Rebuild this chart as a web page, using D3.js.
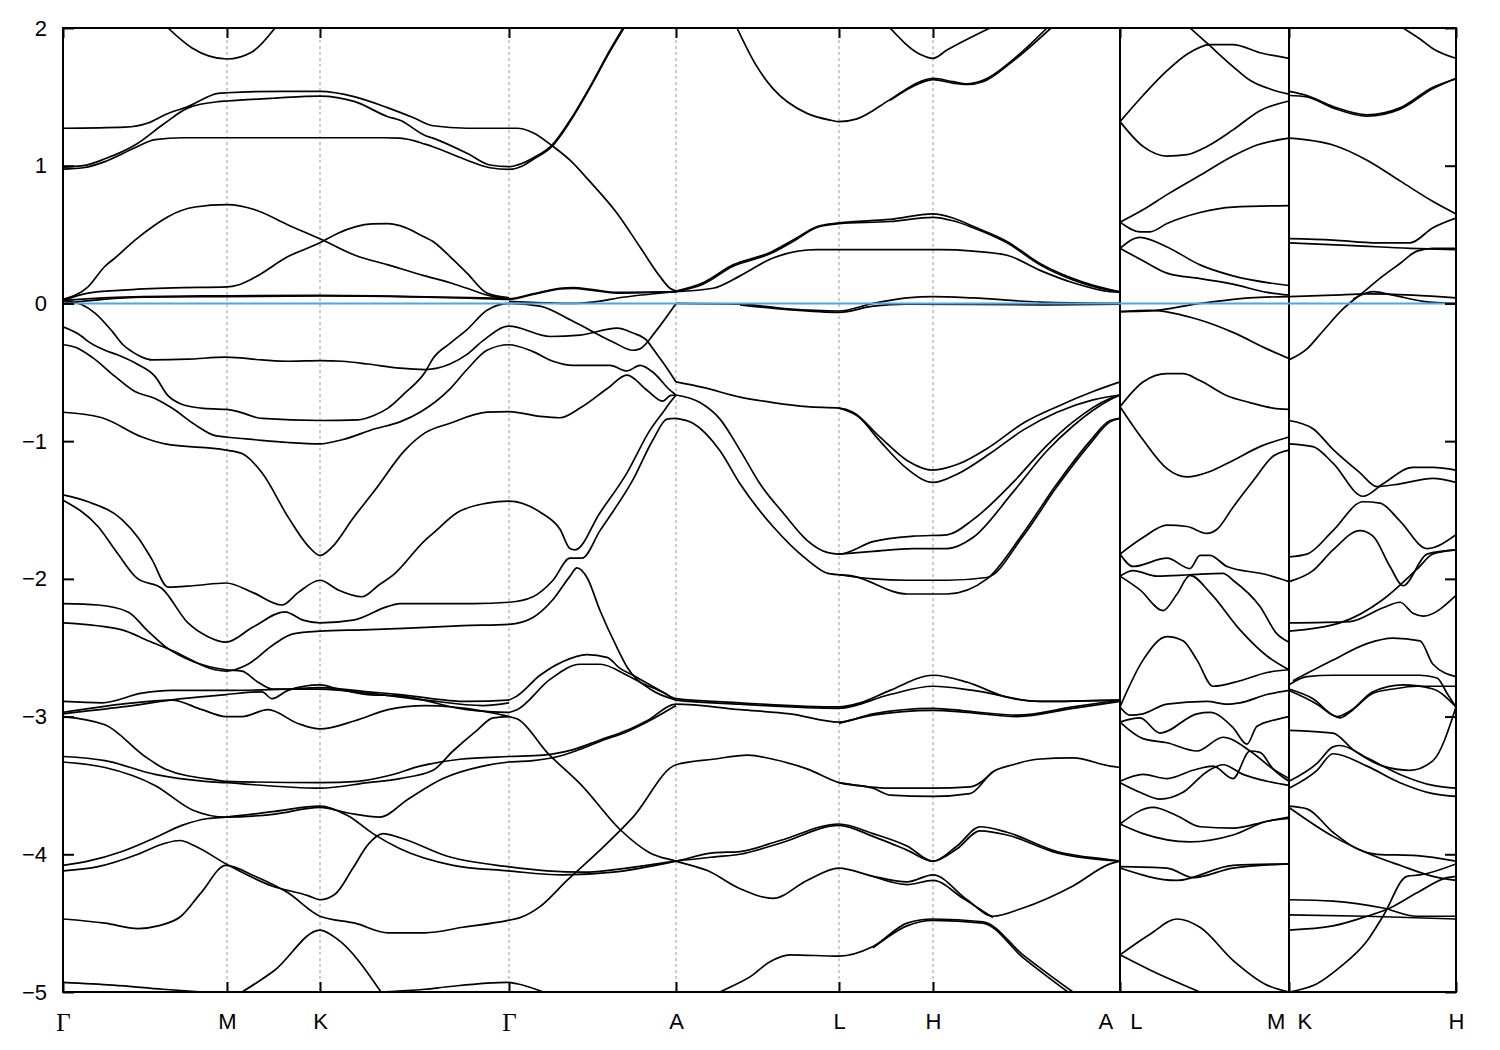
<!DOCTYPE html>
<html><head><meta charset="utf-8">
<script src="https://cdn.jsdelivr.net/npm/d3@7"></script>
<style>body{margin:0;background:#fff}</style>
</head><body><svg id="c" width="1500" height="1050"></svg>
<script>
// High-symmetry points along the k-path (path-length units)
const kTicks = [0, 1.64, 2.57, 4.46, 6.13, 7.76, 8.70, 10.57, 12.26, 13.93];
const kTickLabels = ["Γ","M","K","Γ","A","L","H","A   L","M  K","H"];
const energyTicks = [2, 1, 0, -1, -2, -3, -4, -5];
const pathBreaks = [10.57, 12.26];
const fermiLevel = 0;

// Panel Γ-M-K-Γ-A-L-H-A, bands above the Fermi level
const upperBands = [
 [[1.05,2.0],[1.29,1.855],[1.64,1.775],[1.89,1.826],[2.12,2.0]],
 [[0,1.272],[0.62,1.28],[0.85,1.31],[1.02,1.37],[1.25,1.43],[1.55,1.525],[1.64,1.53],[2.2,1.54],[2.57,1.54],[2.92,1.50],[3.25,1.42],[3.5,1.35],[3.7,1.29],[4.04,1.272],[4.54,1.272],[4.7,1.24],[4.9,1.14],[5.07,1.04],[5.27,0.884],[5.54,0.655],[5.77,0.41],[5.97,0.195],[6.07,0.11],[6.13,0.09]],
 [[0,0.99],[0.2,1.0],[0.42,1.05],[0.72,1.15],[1.02,1.31],[1.25,1.42],[1.55,1.465],[1.64,1.47],[2.1,1.49],[2.57,1.506],[2.92,1.465],[3.25,1.356],[3.37,1.33],[3.62,1.22],[3.70,1.2],[4.04,1.09],[4.27,1.005],[4.46,0.993],[4.6,1.02],[4.7,1.056],[4.89,1.15],[5.07,1.33],[5.27,1.574],[5.47,1.84],[5.60,2.0]],
 [[0,0.975],[0.2,0.985],[0.42,1.03],[0.72,1.13],[0.92,1.19],[1.2,1.203],[3.2,1.203],[3.37,1.20],[3.62,1.157],[3.70,1.138],[4.04,1.04],[4.27,0.985],[4.46,0.974],[4.6,1.0],[4.7,1.045],[4.89,1.14],[5.07,1.32],[5.27,1.565],[5.47,1.83],[5.61,2.0]],
 [[0,0.03],[0.25,0.12],[0.42,0.27],[0.52,0.33],[0.72,0.46],[0.92,0.57],[1.05,0.63],[1.32,0.70],[1.64,0.717],[1.92,0.68],[2.25,0.57],[2.57,0.47],[2.92,0.35],[3.25,0.28],[3.62,0.20],[3.87,0.15],[4.04,0.11],[4.30,0.05],[4.46,0.04]],
 [[0,0.02],[0.25,0.075],[0.6,0.097],[1.1,0.113],[1.64,0.12],[1.75,0.134],[1.92,0.19],[2.25,0.34],[2.57,0.44],[2.75,0.51],[3.09,0.577],[3.25,0.58],[3.37,0.565],[3.62,0.48],[3.70,0.45],[3.87,0.34],[4.04,0.22],[4.24,0.075],[4.46,0.04]],
 [[0,0.02],[0.4,0.04],[0.8,0.05],[1.64,0.055],[2.57,0.058],[3.5,0.05],[4.2,0.04],[4.46,0.035],[4.7,0.07],[4.97,0.11],[5.1,0.115],[5.3,0.1],[5.54,0.08],[6.13,0.085]],
 [[0,0.0],[0.4,0.03],[0.8,0.045],[1.64,0.05],[2.57,0.055],[3.5,0.048],[4.2,0.035],[4.46,0.03],[4.7,0.065],[4.97,0.105],[5.1,0.11],[5.3,0.095],[5.54,0.075],[6.13,0.085]],
 [[4.46,0.015],[4.8,0.005],[5.1,0.0],[5.3,0.01],[5.6,0.045],[6.13,0.085]],
 [[6.74,2.0],[6.93,1.73],[7.10,1.56],[7.44,1.38],[7.68,1.33],[7.76,1.32],[7.94,1.34],[8.27,1.48],[8.57,1.61],[8.70,1.635],[8.9,1.61],[9.04,1.595],[9.2,1.62],[9.5,1.77],[9.84,2.0]],
 [[8.27,1.475],[8.57,1.60],[8.70,1.625],[8.9,1.60],[9.04,1.59],[9.2,1.61],[9.5,1.76],[9.88,2.0]],
 [[8.27,2.0],[8.57,1.81],[8.70,1.78],[8.84,1.84],[9.27,2.0]],
 [[6.13,0.09],[6.4,0.15],[6.7,0.28],[7.07,0.37],[7.3,0.46],[7.55,0.56],[7.76,0.585],[8.27,0.61],[8.70,0.65],[8.9,0.62],[9.1,0.56],[9.44,0.45],[9.77,0.29],[10.10,0.18],[10.47,0.10],[10.57,0.085]],
 [[6.13,0.085],[6.4,0.14],[6.7,0.27],[7.07,0.36],[7.3,0.45],[7.55,0.555],[7.76,0.58],[8.27,0.595],[8.70,0.625],[8.9,0.60],[9.1,0.55],[9.44,0.44],[9.77,0.28],[10.1,0.17],[10.47,0.095],[10.57,0.085]],
 [[6.13,0.085],[6.5,0.11],[6.77,0.20],[7.10,0.33],[7.54,0.39],[8.77,0.39],[9.1,0.38],[9.44,0.35],[9.77,0.24],[10.10,0.15],[10.47,0.085],[10.57,0.08]],
 [[6.13,0.0],[6.77,-0.005],[7.25,-0.04],[7.76,-0.055],[8.10,0.0],[8.44,0.04],[8.70,0.05],[9.10,0.04],[9.77,0.01],[10.57,0.0]],
 [[6.77,-0.01],[7.25,-0.045],[7.76,-0.065],[8.1,-0.02],[8.44,-0.005],[9.77,-0.01],[10.57,-0.005]]
];

// Panel Γ-M-K-Γ-A-L-H-A, bands below the Fermi level
const lowerBands = [
 [[0,-0.17],[0.19,-0.24],[0.24,-0.27],[0.42,-0.34],[0.55,-0.375],[0.74,-0.44],[0.92,-0.53],[1.05,-0.67],[1.18,-0.73],[1.38,-0.76],[1.63,-0.77],[1.72,-0.78],[1.99,-0.835],[2.57,-0.85],[2.95,-0.845],[3.12,-0.81],[3.25,-0.76],[3.42,-0.65],[3.62,-0.50],[3.70,-0.40],[3.87,-0.29],[4.04,-0.19],[4.24,-0.05],[4.46,0.0],[4.77,-0.02],[5.1,-0.13],[5.5,-0.28],[5.7,-0.34],[5.77,-0.33],[5.94,-0.19],[6.13,0.0]],
 [[0,-0.30],[0.13,-0.32],[0.29,-0.39],[0.52,-0.53],[0.72,-0.64],[0.92,-0.69],[1.09,-0.76],[1.32,-0.88],[1.52,-0.96],[1.63,-0.97],[1.92,-0.99],[2.25,-1.01],[2.57,-1.02],[2.79,-0.99],[3.12,-0.91],[3.37,-0.86],[3.57,-0.79],[3.87,-0.62],[4.04,-0.48],[4.24,-0.34],[4.46,-0.30],[4.7,-0.35],[4.9,-0.42],[5.1,-0.45],[5.47,-0.45],[5.64,-0.49],[5.77,-0.45],[5.9,-0.50],[6.07,-0.63],[6.13,-0.665]],
 [[0,0.02],[0.19,-0.01],[0.32,-0.07],[0.5,-0.21],[0.6,-0.30],[0.69,-0.35],[0.79,-0.39],[0.89,-0.41],[1.25,-0.405],[1.63,-0.39],[1.99,-0.41],[2.25,-0.42],[2.57,-0.415],[2.79,-0.42],[3.05,-0.44],[3.37,-0.47],[3.62,-0.48],[3.87,-0.44],[4.04,-0.37],[4.2,-0.27],[4.46,-0.165],[4.87,-0.24],[5.17,-0.23],[5.54,-0.18],[5.7,-0.215],[5.84,-0.27],[5.9,-0.33],[6.04,-0.47],[6.13,-0.57]],
 [[0,-0.79],[0.39,-0.83],[0.79,-0.97],[1.02,-1.02],[1.63,-1.065],[1.79,-1.09],[1.99,-1.23],[2.25,-1.55],[2.45,-1.76],[2.57,-1.83],[2.69,-1.77],[2.9,-1.56],[3.12,-1.355],[3.42,-1.065],[3.62,-0.94],[3.87,-0.87],[4.24,-0.79],[4.46,-0.785],[4.77,-0.82],[4.97,-0.83],[5.17,-0.76],[5.44,-0.62],[5.64,-0.52],[5.84,-0.63],[6.0,-0.71],[6.07,-0.67],[6.13,-0.665]],
 [[0,-1.39],[0.25,-1.44],[0.59,-1.57],[0.75,-1.70],[0.89,-1.86],[1.05,-2.06],[1.3,-2.05],[1.63,-2.03],[1.9,-2.10],[2.19,-2.19],[2.35,-2.10],[2.57,-2.01],[2.75,-2.08],[2.99,-2.13],[3.15,-2.05],[3.32,-1.96],[3.62,-1.72],[3.70,-1.67],[3.94,-1.52],[4.24,-1.45],[4.46,-1.435],[4.78,-1.52],[4.97,-1.64],[5.07,-1.78],[5.12,-1.79],[5.37,-1.52],[5.64,-1.23],[5.87,-0.92],[6.0,-0.79],[6.07,-0.72],[6.13,-0.665]],
 [[0,-1.43],[0.35,-1.62],[0.55,-1.82],[0.74,-1.995],[0.99,-2.07],[1.25,-2.32],[1.45,-2.42],[1.63,-2.46],[1.9,-2.35],[2.22,-2.24],[2.4,-2.30],[2.57,-2.32],[2.9,-2.30],[3.25,-2.20],[3.37,-2.18],[3.7,-2.18],[4.1,-2.18],[4.46,-2.17],[4.70,-2.13],[4.90,-2.01],[5.07,-1.85],[5.19,-1.85],[5.37,-1.65],[5.70,-1.28],[5.9,-0.99],[6.04,-0.84],[6.13,-0.835]],
 [[0,-2.18],[0.35,-2.19],[0.65,-2.24],[0.85,-2.38],[1.02,-2.49],[1.3,-2.60],[1.63,-2.66],[1.79,-2.67],[1.95,-2.75],[2.1,-2.80],[2.57,-2.80],[3.05,-2.83],[3.62,-2.88],[4.2,-2.92],[4.46,-2.90]],
 [[0,-2.32],[0.59,-2.37],[0.85,-2.45],[1.09,-2.52],[1.52,-2.66],[1.63,-2.67],[1.85,-2.62],[2.1,-2.48],[2.3,-2.40],[2.57,-2.38],[3.0,-2.37],[3.4,-2.36],[4.0,-2.34],[4.46,-2.33],[4.7,-2.28],[4.9,-2.15],[5.07,-1.98],[5.14,-1.92],[5.24,-1.99],[5.37,-2.23],[5.54,-2.50],[5.64,-2.64],[5.87,-2.80],[6.13,-2.88]],
 [[0,-2.89],[0.39,-2.90],[0.79,-2.83],[1.09,-2.81],[1.63,-2.81],[2.25,-2.80],[2.57,-2.79],[3.05,-2.82],[3.37,-2.84],[4.04,-2.89],[4.45,-2.88],[4.54,-2.85],[4.77,-2.70],[5.0,-2.60],[5.24,-2.55],[5.44,-2.57],[5.57,-2.65],[5.7,-2.70],[5.97,-2.81],[6.13,-2.87],[6.77,-2.9],[7.76,-2.93],[7.97,-2.90],[8.27,-2.81],[8.70,-2.70],[9.04,-2.75],[9.44,-2.86],[9.77,-2.89],[10.57,-2.88]],
 [[0,-2.98],[0.59,-2.93],[1.19,-2.87],[1.63,-2.84],[1.99,-2.82],[2.09,-2.87],[2.25,-2.81],[2.57,-2.77],[2.75,-2.80],[3.05,-2.84],[3.37,-2.85],[4.04,-2.95],[4.45,-2.97],[4.54,-2.95],[4.87,-2.73],[5.17,-2.62],[5.37,-2.62],[5.64,-2.70],[5.77,-2.75],[6.04,-2.84],[6.13,-2.88],[6.77,-2.91],[7.76,-2.94],[8.27,-2.84],[8.70,-2.78],[9.1,-2.81],[9.77,-2.89],[10.57,-2.88]],
 [[0,-2.97],[0.59,-2.91],[1.09,-2.88],[1.39,-2.95],[1.63,-3.0],[1.79,-3.0],[2.05,-2.95],[2.35,-3.05],[2.57,-3.09],[2.92,-3.03],[3.25,-2.95],[3.62,-2.92],[4.2,-2.96],[4.46,-3.0],[4.55,-3.02],[4.84,-3.26],[5.2,-3.51],[5.57,-3.82],[5.87,-3.99],[6.13,-4.05],[6.45,-4.12],[6.77,-4.25],[7.10,-4.32],[7.44,-4.19],[7.76,-4.10],[8.1,-4.16],[8.44,-4.20],[8.70,-4.15],[9.04,-4.33],[9.30,-4.45],[9.60,-4.39],[10.1,-4.23],[10.47,-4.07],[10.57,-4.05]],
 [[8.1,-4.16],[8.44,-4.22],[8.70,-4.19],[9.0,-4.32],[9.30,-4.46]],
 [[0,-3.0],[0.42,-3.06],[0.82,-3.29],[1.02,-3.38],[1.52,-3.46],[1.63,-3.47],[2.57,-3.48],[2.95,-3.47],[3.25,-3.43],[3.57,-3.36],[3.97,-3.31],[4.46,-3.29],[4.80,-3.28],[5.10,-3.24],[5.37,-3.17],[5.64,-3.10],[5.84,-3.03],[6.13,-2.91],[6.77,-2.95],[7.27,-2.98],[7.76,-3.04],[8.1,-2.98],[8.70,-2.94],[9.04,-2.96],[9.54,-2.99],[10.1,-2.93],[10.57,-2.88]],
 [[7.76,-3.05],[8.1,-2.99],[8.70,-2.955],[9.04,-2.97],[9.54,-3.0],[10.1,-2.94],[10.57,-2.89]],
 [[0,-3.29],[0.42,-3.32],[0.92,-3.42],[1.42,-3.47],[1.63,-3.48],[2.57,-3.52],[3.05,-3.48],[3.37,-3.45],[3.70,-3.39],[3.9,-3.25],[4.14,-3.10],[4.3,-3.01],[4.46,-3.0]],
 [[0,-3.33],[0.42,-3.37],[0.92,-3.50],[1.3,-3.68],[1.63,-3.73],[2.1,-3.71],[2.57,-3.66],[2.85,-3.70],[3.17,-3.73],[3.45,-3.60],[3.8,-3.45],[4.2,-3.36],[4.46,-3.33],[4.7,-3.32],[4.95,-3.29],[5.2,-3.23],[5.37,-3.18],[5.64,-3.11],[5.84,-3.04],[6.13,-2.92]],
 [[0,-4.08],[0.25,-4.05],[0.59,-3.98],[0.92,-3.88],[1.19,-3.79],[1.45,-3.74],[1.63,-3.73],[2.1,-3.69],[2.57,-3.65],[2.85,-3.72],[3.1,-3.85],[3.37,-3.96],[3.9,-4.08],[4.45,-4.12],[5.0,-4.15],[5.5,-4.13],[6.13,-4.05],[6.5,-3.99],[6.77,-3.98],[7.17,-3.90],[7.76,-3.78],[8.1,-3.85],[8.44,-3.94],[8.70,-4.05],[8.94,-3.94],[9.17,-3.80],[9.44,-3.84],[9.94,-3.98],[10.47,-4.04],[10.57,-4.05]],
 [[0,-4.12],[0.35,-4.09],[0.75,-4.0],[1.02,-3.92],[1.17,-3.90],[1.32,-3.94],[1.63,-4.07],[2.09,-4.23],[2.45,-4.30],[2.57,-4.33],[2.72,-4.29],[2.9,-4.1],[3.05,-3.93],[3.2,-3.85],[3.37,-3.88],[3.87,-4.02],[4.45,-4.09],[4.84,-4.12],[5.2,-4.13],[5.64,-4.10],[6.13,-4.05],[6.5,-4.02],[6.77,-4.0],[7.17,-3.92],[7.76,-3.79],[8.1,-3.87],[8.44,-3.97],[8.70,-4.05],[8.94,-3.96],[9.17,-3.83],[9.44,-3.86],[9.94,-3.99],[10.57,-4.05]],
 [[0,-4.47],[0.42,-4.50],[0.75,-4.54],[0.95,-4.52],[1.18,-4.45],[1.38,-4.28],[1.63,-4.08],[1.92,-4.16],[2.25,-4.28],[2.57,-4.45],[2.92,-4.50],[3.25,-4.57],[3.62,-4.57],[4.0,-4.53],[4.45,-4.48],[4.57,-4.46],[4.77,-4.38],[5.04,-4.19],[5.37,-3.97],[5.70,-3.73],[6.13,-3.35],[6.5,-3.31],[6.85,-3.28],[7.1,-3.31],[7.44,-3.38],[7.76,-3.48],[8.1,-3.52],[8.27,-3.57],[8.70,-3.58],[9.07,-3.56],[9.3,-3.40],[9.5,-3.35],[9.74,-3.31],[10.1,-3.3],[10.47,-3.36],[10.57,-3.37]],
 [[7.76,-3.48],[8.27,-3.52],[8.70,-3.52],[9.07,-3.51],[9.3,-3.40]],
 [[0,-4.93],[0.5,-4.95],[1.0,-4.98],[1.4,-5.0],[1.63,-5.01]],
 [[1.79,-5.0],[2.12,-4.84],[2.57,-4.55],[2.75,-4.62],[3.18,-5.0]],
 [[3.18,-5.0],[3.62,-4.98],[3.87,-4.96],[4.45,-4.93],[4.54,-4.94],[4.84,-5.01]],
 [[6.57,-5.0],[6.77,-4.93],[6.87,-4.89],[7.07,-4.78],[7.27,-4.73],[7.76,-4.74],[8.1,-4.67],[8.44,-4.50],[8.70,-4.47],[9.2,-4.49],[9.6,-4.73],[10.1,-5.0]],
 [[8.1,-4.68],[8.44,-4.52],[8.70,-4.48],[9.2,-4.50],[9.6,-4.75],[10.05,-5.0]],
 [[6.13,-0.57],[6.4,-0.61],[6.77,-0.68],[7.1,-0.72],[7.44,-0.75],[7.76,-0.76],[7.9,-0.79],[8.17,-0.97],[8.44,-1.14],[8.70,-1.21],[8.94,-1.17],[9.27,-1.04],[9.6,-0.87],[9.94,-0.75],[10.3,-0.64],[10.57,-0.57]],
 [[7.76,-0.76],[7.95,-0.82],[8.17,-1.0],[8.44,-1.20],[8.70,-1.30],[8.94,-1.24],[9.27,-1.09],[9.6,-0.92],[9.94,-0.79],[10.3,-0.70],[10.57,-0.665]],
 [[6.13,-0.665],[6.37,-0.72],[6.57,-0.84],[6.77,-1.065],[6.97,-1.31],[7.2,-1.52],[7.44,-1.72],[7.65,-1.81],[7.76,-1.82],[8.1,-1.73],[8.5,-1.69],[8.84,-1.68],[9.1,-1.57],[9.5,-1.30],[9.84,-1.03],[10.1,-0.86],[10.47,-0.69],[10.57,-0.665]],
 [[7.76,-1.82],[8.1,-1.80],[8.5,-1.78],[8.84,-1.78],[9.1,-1.70],[9.5,-1.37],[9.84,-1.07],[10.1,-0.89],[10.47,-0.70],[10.57,-0.665]],
 [[6.13,-0.835],[6.30,-0.87],[6.57,-1.07],[6.77,-1.31],[7.10,-1.62],[7.44,-1.86],[7.65,-1.96],[7.9,-1.98],[8.44,-2.11],[8.84,-2.11],[9.24,-2.0],[9.6,-1.67],[9.94,-1.31],[10.27,-1.0],[10.47,-0.85],[10.57,-0.835]],
 [[7.76,-1.97],[8.1,-2.0],[8.44,-2.01],[8.84,-2.01],[9.24,-1.99],[9.6,-1.69],[9.94,-1.33],[10.27,-1.02],[10.47,-0.86],[10.57,-0.835]]
];

// Panel L-M
const bandsLM = [
 [[10.57,1.32],[10.80,1.51],[11.04,1.69],[11.24,1.81],[11.47,1.88],[11.70,1.88],[11.97,1.82],[12.26,1.78]],
 [[11.27,2.0],[11.44,1.89],[11.70,1.72],[11.87,1.62],[12.1,1.55],[12.26,1.52]],
 [[10.57,1.32],[10.80,1.14],[11.04,1.07],[11.24,1.08],[11.44,1.14],[11.70,1.26],[11.97,1.40],[12.26,1.47]],
 [[10.57,0.59],[10.80,0.68],[11.04,0.79],[11.37,0.93],[11.70,1.07],[11.94,1.15],[12.26,1.20]],
 [[10.57,0.59],[10.77,0.52],[10.87,0.52],[11.04,0.58],[11.37,0.66],[11.70,0.70],[12.26,0.71]],
 [[10.57,0.40],[10.77,0.48],[11.04,0.41],[11.37,0.28],[11.70,0.20],[12.26,0.13]],
 [[10.57,0.40],[10.80,0.31],[11.04,0.22],[11.37,0.18],[11.70,0.14],[12.04,0.08],[12.26,0.06]],
 [[10.57,-0.06],[10.87,-0.055],[11.37,0.0],[11.87,0.04],[12.26,0.05]],
 [[10.57,-0.06],[10.87,-0.05],[11.37,-0.12],[11.70,-0.21],[12.04,-0.33],[12.26,-0.40]],
 [[10.57,-0.75],[10.80,-0.57],[11.04,-0.51],[11.2,-0.51],[11.37,-0.56],[11.64,-0.67],[11.87,-0.72],[12.1,-0.76],[12.26,-0.77]],
 [[10.57,-0.75],[10.80,-0.99],[11.04,-1.20],[11.24,-1.26],[11.47,-1.22],[11.70,-1.14],[11.97,-1.04],[12.26,-0.97]],
 [[10.57,-1.82],[10.80,-1.70],[11.04,-1.61],[11.24,-1.62],[11.44,-1.67],[11.54,-1.64],[11.70,-1.48],[11.90,-1.29],[12.1,-1.11],[12.26,-1.065]],
 [[10.57,-1.82],[10.70,-1.91],[11.04,-1.85],[11.27,-1.925],[11.37,-1.83],[11.47,-1.83],[11.64,-1.91],[12.04,-1.97],[12.26,-2.02]],
 [[10.57,-1.98],[10.70,-1.94],[10.94,-1.98],[11.27,-1.97],[11.6,-1.96],[11.70,-2.01],[11.97,-2.20],[12.14,-2.40],[12.26,-2.46]],
 [[10.57,-1.98],[10.77,-2.08],[11.0,-2.23],[11.14,-2.11],[11.27,-1.975],[11.47,-2.10],[11.77,-2.37],[12.04,-2.56],[12.26,-2.66]],
 [[10.57,-2.93],[10.80,-2.59],[11.04,-2.42],[11.2,-2.45],[11.34,-2.59],[11.50,-2.78],[11.77,-2.74],[12.04,-2.68],[12.26,-2.66]],
 [[10.57,-2.93],[10.67,-2.99],[10.80,-2.98],[11.04,-2.91],[11.44,-2.89],[11.64,-2.91],[11.77,-2.90],[12.04,-2.84],[12.26,-2.81]],
 [[10.57,-3.04],[10.77,-3.01],[10.97,-3.12],[11.34,-2.98],[11.47,-2.97],[11.70,-3.08],[11.84,-3.20],[11.94,-3.07],[12.14,-3.02],[12.26,-3.0]],
 [[10.57,-3.04],[10.80,-3.16],[11.04,-3.19],[11.34,-3.25],[11.6,-3.15],[11.87,-3.25],[12.1,-3.38],[12.26,-3.45]],
 [[10.57,-3.47],[10.80,-3.42],[11.04,-3.45],[11.3,-3.39],[11.5,-3.36],[11.7,-3.45],[11.87,-3.25],[11.97,-3.26],[12.1,-3.38],[12.26,-3.47]],
 [[10.57,-3.48],[10.77,-3.55],[10.97,-3.60],[11.2,-3.55],[11.44,-3.40],[11.6,-3.35],[11.8,-3.42],[12.04,-3.47],[12.26,-3.50]],
 [[10.57,-3.78],[10.90,-3.66],[11.14,-3.72],[11.37,-3.80],[11.70,-3.81],[12.04,-3.76],[12.26,-3.73]],
 [[10.57,-3.78],[10.80,-3.85],[11.27,-3.91],[11.70,-3.86],[12.04,-3.76],[12.26,-3.74]],
 [[10.57,-4.09],[11.04,-4.10],[11.30,-4.17],[11.70,-4.10],[12.26,-4.07]],
 [[10.57,-4.10],[11.14,-4.19],[11.70,-4.08],[12.26,-4.07]],
 [[10.57,-4.73],[10.87,-4.58],[11.14,-4.47],[11.37,-4.53],[11.70,-4.77],[12.04,-4.95],[12.26,-5.0]],
 [[10.57,-4.73],[10.87,-4.84],[11.37,-5.0]]
];

// Panel K-H
const bandsKH = [
 [[12.26,1.54],[12.44,1.51],[12.70,1.43],[13.04,1.37],[13.37,1.42],[13.70,1.57],[13.93,1.63]],
 [[12.26,1.51],[12.44,1.50],[12.70,1.42],[13.04,1.36],[13.37,1.41],[13.70,1.56],[13.93,1.635]],
 [[13.4,2.0],[13.57,1.92],[13.70,1.85],[13.93,1.78]],
 [[12.26,1.20],[12.70,1.15],[13.04,1.04],[13.37,0.89],[13.70,0.74],[13.93,0.65]],
 [[12.26,0.47],[12.70,0.46],[13.14,0.44],[13.47,0.44],[13.70,0.55],[13.93,0.62]],
 [[12.26,0.44],[12.9,0.42],[13.47,0.40],[13.93,0.39]],
 [[12.26,0.05],[12.7,0.06],[13.04,0.07],[13.5,0.06],[13.93,0.04]],
 [[12.26,-0.41],[12.44,-0.33],[12.6,-0.2],[12.8,-0.04],[13.0,0.08],[13.2,0.2],[13.37,0.29],[13.54,0.38],[13.7,0.40],[13.93,0.40]],
 [[12.9,0.03],[13.1,0.085],[13.3,0.06],[13.6,0.015],[13.93,0.0]],
 [[12.26,-0.85],[12.50,-0.91],[12.70,-1.06],[12.97,-1.23],[13.14,-1.33],[13.37,-1.31],[13.70,-1.27],[13.93,-1.30]],
 [[12.26,-1.02],[12.50,-1.04],[12.70,-1.16],[13.0,-1.40],[13.20,-1.31],[13.5,-1.19],[13.70,-1.19],[13.93,-1.21]],
 [[12.26,-1.84],[12.44,-1.82],[12.70,-1.65],[13.0,-1.44],[13.17,-1.45],[13.37,-1.58],[13.64,-1.78],[13.93,-1.68]],
 [[12.26,-2.02],[12.50,-1.94],[12.70,-1.79],[12.97,-1.65],[13.1,-1.69],[13.27,-1.91],[13.40,-2.05],[13.64,-1.82],[13.93,-1.79]],
 [[12.26,-2.32],[12.87,-2.31],[13.2,-2.21],[13.37,-2.17],[13.5,-2.25],[13.6,-2.27],[13.93,-2.12]],
 [[12.26,-2.38],[12.77,-2.32],[13.2,-2.15],[13.54,-1.93],[13.70,-1.82],[13.93,-1.79]],
 [[12.3,-2.74],[12.70,-2.59],[13.04,-2.47],[13.3,-2.43],[13.57,-2.45],[13.70,-2.62],[13.93,-2.71]],
 [[12.26,-2.77],[12.44,-2.71],[12.70,-2.70],[13.57,-2.70],[13.74,-2.72],[13.84,-2.83],[13.93,-2.93]],
 [[12.26,-2.81],[12.54,-2.91],[12.70,-2.99],[12.77,-3.01],[12.9,-2.95],[13.1,-2.83],[13.3,-2.80],[13.54,-2.78],[13.93,-2.78]],
 [[12.26,-2.80],[12.50,-2.87],[12.74,-3.0],[12.87,-2.96],[13.1,-2.82],[13.4,-2.77],[13.7,-2.80],[13.93,-2.93]],
 [[12.26,-3.10],[12.70,-3.12],[12.90,-3.24],[13.2,-3.36],[13.47,-3.39],[13.70,-3.32],[13.93,-2.93]],
 [[12.26,-3.47],[12.54,-3.34],[12.70,-3.22],[12.77,-3.21],[13.04,-3.30],[13.37,-3.42],[13.70,-3.50],[13.93,-3.52]],
 [[12.26,-3.52],[12.54,-3.39],[12.70,-3.27],[13.04,-3.36],[13.37,-3.48],[13.70,-3.56],[13.93,-3.58]],
 [[12.26,-3.65],[12.44,-3.67],[12.70,-3.84],[12.94,-3.96],[13.14,-4.0],[13.54,-4.01],[13.93,-4.05]],
 [[12.26,-3.66],[12.70,-3.87],[13.04,-3.99],[13.37,-4.08],[13.70,-4.16],[13.93,-4.19]],
 [[12.26,-4.33],[12.70,-4.34],[13.2,-4.39],[13.54,-4.45],[13.93,-4.45]],
 [[12.26,-4.44],[13.04,-4.45],[13.93,-4.47]],
 [[12.26,-4.55],[12.70,-4.52],[13.04,-4.45],[13.27,-4.39],[13.54,-4.28],[13.84,-4.17],[13.93,-4.16]],
 [[12.26,-5.0],[12.54,-4.94],[12.77,-4.82],[13.04,-4.63],[13.2,-4.45],[13.44,-4.16],[13.57,-4.15],[13.93,-4.07]]
];

const svg = d3.select("#c");
const L = 63, R = 1456, T = 28, B = 992;
const x = d3.scaleLinear().domain([kTicks[0], kTicks[kTicks.length-1]]).range([L, R]);
const y = d3.scaleLinear().domain([-5, 2]).range([B, T]);

svg.append("defs").append("clipPath").attr("id","plotclip")
  .append("rect").attr("x",L).attr("y",T).attr("width",R-L).attr("height",B-T);

// dashed guides at symmetry points
svg.append("g").selectAll("line").data(kTicks.slice(1,-1)).join("line")
  .attr("x1",d=>x(d)).attr("x2",d=>x(d)).attr("y1",T).attr("y2",B)
  .attr("stroke","#9a9a9a").attr("stroke-width",1).attr("stroke-dasharray","3,3");

const line = d3.line().x(d=>x(d[0])).y(d=>y(d[1])).curve(d3.curveMonotoneX);
const allBands = [...upperBands, ...lowerBands, ...bandsLM, ...bandsKH];
svg.append("g").attr("clip-path","url(#plotclip)").selectAll("path").data(allBands).join("path")
  .attr("d", line).attr("fill","none").attr("stroke","#000").attr("stroke-width",1.7)
  .attr("stroke-linejoin","round");

// path discontinuities
svg.append("g").selectAll("line").data(pathBreaks).join("line")
  .attr("x1",d=>x(d)).attr("x2",d=>x(d)).attr("y1",y(2)).attr("y2",y(-5))
  .attr("stroke","#000").attr("stroke-width",2);

// Fermi level
svg.append("line").attr("x1",L).attr("x2",R).attr("y1",y(fermiLevel)).attr("y2",y(fermiLevel))
  .attr("stroke","#4aa8e2").attr("stroke-width",2);

// axes
const fontFam = "'Liberation Sans', Arial, sans-serif";
const gy = svg.append("g").attr("transform",`translate(${L},0)`)
  .call(d3.axisLeft(y).tickValues(energyTicks).tickFormat(d3.format("d")).tickSizeInner(-11).tickSizeOuter(0).tickPadding(16));
gy.select(".domain").remove();
gy.selectAll("line").attr("stroke-width",2);
gy.selectAll("text").style("font-family",fontFam).style("font-size","22px").attr("fill","#000");

const gyr = svg.append("g").attr("transform",`translate(${R},0)`)
  .call(d3.axisRight(y).tickValues(energyTicks).tickFormat("").tickSizeInner(-11).tickSizeOuter(0));
gyr.select(".domain").remove();
gyr.selectAll("line").attr("stroke-width",2);

const gx = svg.append("g").attr("transform",`translate(0,${B})`)
  .call(d3.axisBottom(x).tickValues(kTicks).tickFormat((d,i)=>kTickLabels[i]).tickSizeInner(-10).tickSizeOuter(0).tickPadding(21));
gx.select(".domain").remove();
gx.selectAll("line").attr("stroke-width",2);
gx.selectAll("text").style("white-space","pre").attr("fill","#000")
  .style("font-family",(d,i)=>kTickLabels[i]==="Γ" ? "'Liberation Serif','DejaVu Serif',serif" : fontFam)
  .style("font-size",(d,i)=>kTickLabels[i]==="Γ" ? "25px" : "22px");

const gxt = svg.append("g").attr("transform",`translate(0,${T})`)
  .call(d3.axisTop(x).tickValues(kTicks).tickFormat("").tickSizeInner(-10).tickSizeOuter(0));
gxt.select(".domain").remove();
gxt.selectAll("line").attr("stroke-width",2);

// frame
svg.append("rect").attr("x",L).attr("y",T).attr("width",R-L).attr("height",B-T)
  .attr("fill","none").attr("stroke","#000").attr("stroke-width",2);
</script></body></html>
